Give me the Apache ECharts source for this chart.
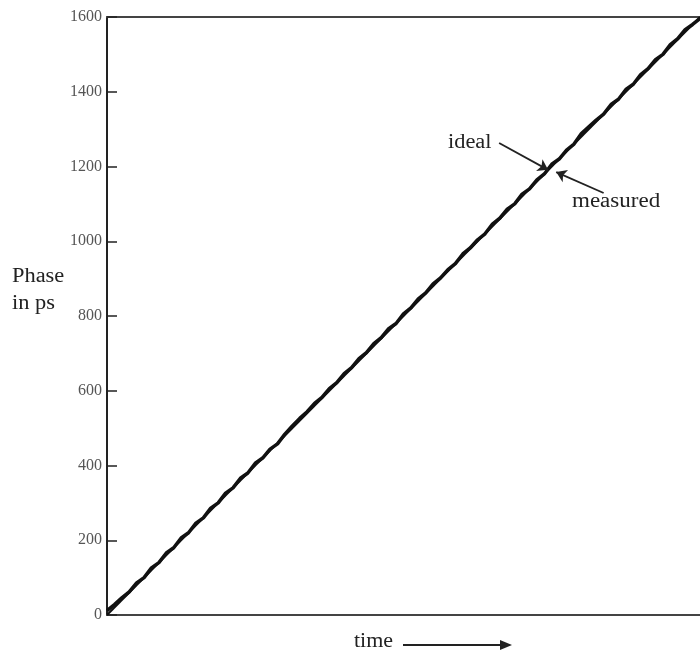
<!DOCTYPE html>
<html>
<head>
<meta charset="utf-8">
<script src="https://cdn.jsdelivr.net/npm/echarts@6/dist/echarts.min.js"></script>
<style>
  html, body { margin: 0; padding: 0; background: #fff; }
  #myChart { width: 700px; height: 652px; }
</style>
</head>
<body>
<div id="myChart"></div>
<script>
// time steps (arbitrary units, no labels on the axis)
const timeSteps = 80
// measured phase in ps, one value per time step
const measured = [
  12, 28, 46, 62, 86, 100, 126, 140, 166, 180,
  206, 220, 246, 260, 286, 300, 326, 340, 366, 380,
  406, 420, 444, 458, 484, 506, 526, 544, 566, 582,
  606, 622, 646, 662, 686, 702, 726, 742, 766, 780,
  806, 822, 846, 862, 886, 902, 924, 940, 966, 982,
  1004, 1020, 1046, 1062, 1086, 1100, 1126, 1140, 1164, 1180,
  1206, 1220, 1244, 1260, 1288, 1306, 1324, 1340, 1366, 1380,
  1406, 1420, 1446, 1462, 1486, 1500, 1526, 1542, 1566, 1580,
  1596
]
// ideal phase: straight line end points
const ideal = [[0, 0], [80, 1600]]
const yTicks = [0, 200, 400, 600, 800, 1000, 1200, 1400, 1600]

const font = '"Liberation Serif", "DejaVu Serif", serif'
let myChart = echarts.init(document.getElementById('myChart'))

const frame = { show: true, lineStyle: { color: '#444', width: 2 } }

myChart.setOption({
  animation: false,
  grid: {
    left: 107,
    top: 17,
    bottom: 37,
    right: 0
  },
  xAxis: [
    {
      type: 'value',
      min: 0,
      max: timeSteps,
      position: 'bottom',
      axisLine: frame,
      axisTick: { show: false },
      axisLabel: { show: false },
      splitLine: { show: false }
    },
    {
      type: 'value',
      min: 0,
      max: timeSteps,
      position: 'top',
      axisLine: frame,
      axisTick: { show: false },
      axisLabel: { show: false },
      splitLine: { show: false }
    }
  ],
  yAxis: {
    type: 'value',
    min: yTicks[0],
    max: yTicks[yTicks.length - 1],
    interval: 200,
    axisLine: { show: true, lineStyle: { color: '#222', width: 2 } },
    axisTick: { show: true, inside: true, length: 10, lineStyle: { color: '#222', width: 1.5 } },
    axisLabel: {
      color: '#555',
      fontFamily: font,
      fontSize: 16,
      margin: 5,
      formatter: v => String(v)
    },
    splitLine: { show: false }
  },
  series: [
    {
      name: 'ideal',
      type: 'line',
      data: ideal,
      symbol: 'none',
      lineStyle: { color: '#111', width: 2 },
      markLine: {
        silent: true,
        symbol: ['none', 'arrow'],
        symbolSize: 10,
        lineStyle: { color: '#222', width: 1.8, type: 'solid' },
        label: { show: false },
        data: [
          [{ coord: [52.9, 1263] }, { coord: [59.5, 1191] }],
          [{ coord: [67.0, 1129] }, { coord: [60.6, 1185] }]
        ]
      }
    },
    {
      name: 'measured',
      type: 'line',
      data: measured.map((v, i) => [i, v]),
      symbol: 'none',
      lineStyle: { color: '#111', width: 3.5 }
    }
  ],
  graphic: [
    { type: 'text', x: 448, y: 133, scaleX: 1.12, style: { text: 'ideal', font: '20px ' + font, fill: '#222' } },
    { type: 'text', x: 572, y: 192, scaleX: 1.15, style: { text: 'measured', font: '20px ' + font, fill: '#222' } },
    { type: 'text', x: 12, y: 263, scaleX: 1.12, style: { text: 'Phase\nin ps', font: '20px ' + font, fill: '#222', lineHeight: 27 } },
    { type: 'text', x: 354, y: 632, scaleX: 1.1, style: { text: 'time', font: '20px ' + font, fill: '#222' } },
    { type: 'line', shape: { x1: 403, y1: 645, x2: 506, y2: 645 }, style: { stroke: '#222', lineWidth: 1.8 } },
    { type: 'polygon', shape: { points: [[512, 645], [500, 640], [500, 650]] }, style: { fill: '#222' } }
  ]
})
</script>
</body>
</html>
